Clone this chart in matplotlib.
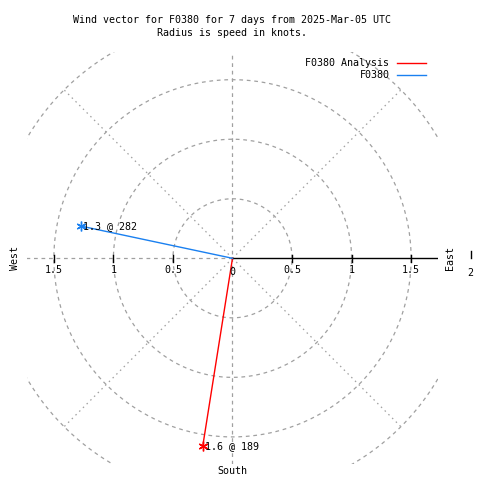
import numpy as np
import matplotlib
matplotlib.use("Agg")
import matplotlib.pyplot as plt

# wind vectors: speed (knots) and direction (deg, compass)
series = ["F0380 Analysis", "F0380"]
speeds = [1.6, 1.3]
directions = [189, 282]
colors = ["#ff0000", "#1a80f0"]

rings = [0.5, 1.0, 1.5, 2.0]
tick_vals = [0.5, 1.0, 1.5]
rmax = 1.73

FONT = "DejaVu Sans Mono"
FS = 7.2
GRID = "#a0a0a0"

fig = plt.figure(figsize=(4.8, 4.8), dpi=100)
ax = fig.add_axes([26.5 / 480, 15.7 / 480, 412 / 480, 412 / 480])
ax.set_xlim(-rmax, rmax)
ax.set_ylim(-rmax, rmax)
ax.set_aspect("equal")
ax.axis("off")

# grid circles
th = np.linspace(0, 2 * np.pi, 721)
for r in rings:
    ax.plot(r * np.cos(th), r * np.sin(th), color=GRID, lw=0.9,
            dashes=(3, 3))

# diagonal spokes
for a in [45, 135, 225, 315]:
    t = np.deg2rad(a)
    ax.plot([0, 2 * np.cos(t)], [0, 2 * np.sin(t)], color=GRID, lw=0.9,
            dashes=(1.2, 3))

# axes lines
ax.plot([0, 0], [-rmax, rmax], color=GRID, lw=0.9, dashes=(3, 3))
ax.plot([-rmax, 0], [0, 0], color=GRID, lw=0.9, dashes=(3, 3))
ax.plot([0, rmax], [0, 0], color="black", lw=1.0)

# ticks on horizontal axis
for v in tick_vals:
    for s in (-1, 1):
        ax.plot([s * v, s * v], [-0.03, 0.03], color="black", lw=1.0)

# tick labels
ax.text(0, -0.075, "0", fontsize=FS, family=FONT, ha="center", va="top")
for v in tick_vals:
    lab = f"{v:g}"
    ax.text(-v, -0.06, lab, fontsize=FS, family=FONT, ha="center", va="top")
    ax.text(v, -0.06, lab, fontsize=FS, family=FONT, ha="center", va="top")

# compass labels
ax.text(-1.83, 0, "West", fontsize=FS, family=FONT, rotation=90,
        ha="center", va="center", clip_on=False)
ax.text(1.83, 0, "East", fontsize=FS, family=FONT, rotation=90,
        ha="center", va="center", clip_on=False)
ax.text(0, -1.79, "South", fontsize=FS, family=FONT, ha="center",
        va="center", clip_on=False)
ax.plot([2.0, 2.0], [0.0, 0.065], color="black", lw=1.0, clip_on=False)
ax.text(2.0, -0.12, "2", fontsize=FS, family=FONT, ha="center",
        va="center", clip_on=False)

# wind vectors
for name, spd, d, c in zip(series, speeds, directions, colors):
    t = np.deg2rad(d)
    x = spd * np.sin(t)
    y = spd * np.cos(t)
    ax.plot([0, x], [0, y], color=c, lw=1.0, label=name)
    ax.plot([x], [y], marker=(6, 2, 0), color=c, ms=7, mew=1.0)
    ax.text(x + 0.02, y, f"{spd:g} @ {d}", fontsize=FS, family=FONT,
            ha="left", va="center")

# legend
leg = ax.legend(loc="upper right",
                bbox_to_anchor=(1.0 - 7 / 412, 1.0 - 1 / 412),
                frameon=False, markerfirst=False, handlelength=2.9,
                handletextpad=0.8, labelspacing=0.2, borderpad=0,
                prop={"family": FONT, "size": FS})
for t in leg.get_texts():
    t.set_ha("right")

fig.text(232 / 480, 1 - 20 / 480, "Wind vector for F0380 for 7 days from 2025-Mar-05 UTC",
         fontsize=FS, family=FONT, ha="center", va="center")
fig.text(232 / 480, 1 - 33 / 480, "Radius is speed in knots.",
         fontsize=FS, family=FONT, ha="center", va="center")

fig.savefig("out.png", dpi=100)
